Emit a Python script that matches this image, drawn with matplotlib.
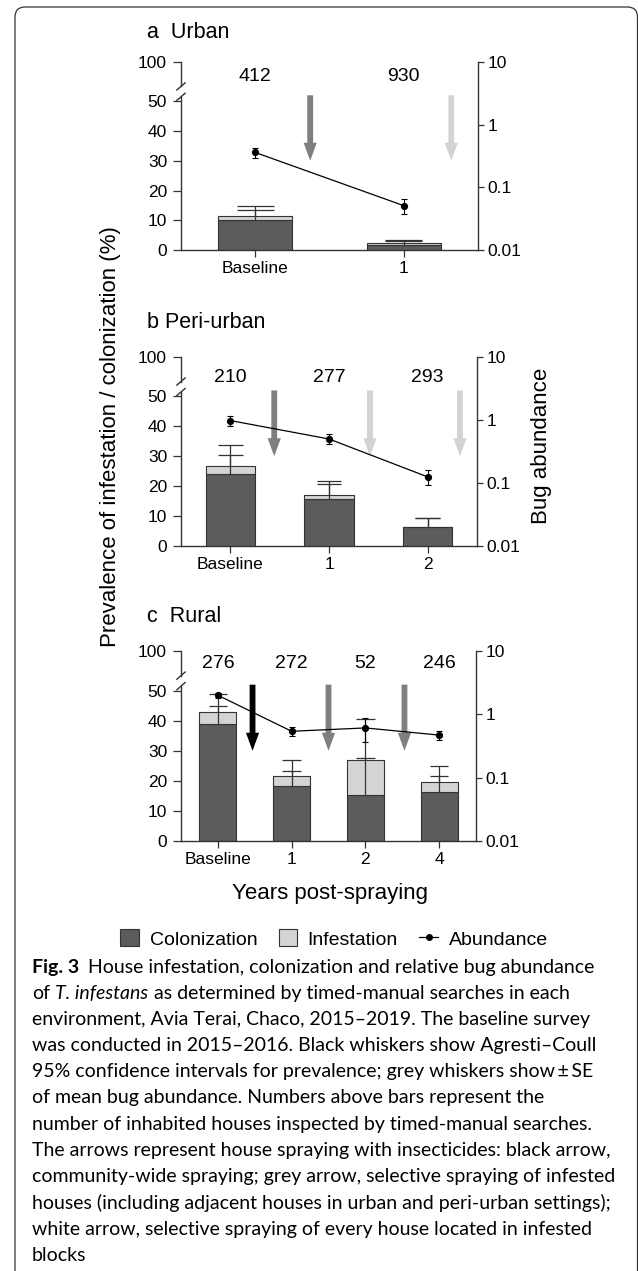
import matplotlib
matplotlib.use('Agg')
import matplotlib.pyplot as plt
from matplotlib.patches import Patch, FancyBboxPatch
from matplotlib.lines import Line2D
from matplotlib.ticker import NullLocator

plt.rcParams['font.family'] = ['Liberation Sans', 'DejaVu Sans']

# ---- waarden ----
# a Urban
urb_cat = ['Baseline', '1']
urb_n = [412, 930]
urb_col = [10.1, 1.7]          # kolonisatie (%)
urb_inf = [11.3, 2.2]          # infestatie (%)
urb_col_up = [13.4, 2.9]       # bovengrens CI kolonisatie
urb_inf_up = [14.9, 3.4]       # bovengrens CI infestatie
urb_ab = [0.36, 0.051]         # bug abundance
urb_ab_se = [0.065, 0.013]
urb_spray_x = [0.37, 1.32]
urb_spray = ['grey', 'white']

# b Peri-urban
per_cat = ['Baseline', '1', '2']
per_n = [210, 277, 293]
per_col = [24.2, 15.8, 6.2]
per_inf = [26.9, 16.9, 6.2]
per_col_up = [30.4, 20.8, 9.5]
per_inf_up = [33.7, 21.9, 9.5]
per_ab = [0.98, 0.50, 0.125]
per_ab_se = [0.17, 0.09, 0.033]
per_spray_x = [0.445, 1.415, 2.327]
per_spray = ['grey', 'white', 'white']

# c Rural
rur_cat = ['Baseline', '1', '2', '4']
rur_n = [276, 272, 52, 246]
rur_col = [39.0, 18.4, 15.3, 16.3]
rur_inf = [42.9, 21.5, 26.8, 19.5]
rur_col_up = [44.9, 23.2, 27.6, 21.5]
rur_inf_up = [48.9, 26.9, 40.5, 24.8]
rur_ab = [2.0, 0.54, 0.61, 0.47]
rur_ab_se = [0.17, 0.09, 0.25, 0.08]
rur_spray_x = [0.47, 1.5, 2.53]
rur_spray = ['black', 'grey', 'grey']

caption = [
    'environment, Avia Terai, Chaco, 2015\u20132019. The baseline survey',
    'was conducted in 2015\u20132016. Black whiskers show Agresti\u2013Coull',
    '95% confidence intervals for prevalence; grey whiskers show\u2009\u00b1\u2009SE',
    'of mean bug abundance. Numbers above bars represent the',
    'number of inhabited houses inspected by timed-manual searches.',
    'The arrows represent house spraying with insecticides: black arrow,',
    'community-wide spraying; grey arrow, selective spraying of infested',
    'houses (including adjacent houses in urban and peri-urban settings);',
    'white arrow, selective spraying of every house located in infested',
    'blocks',
]

W, H = 638, 1271
C_COL = '#5c5c5c'
C_INF = '#d4d4d4'
EDGE = '#333333'
ARROW = {'black': '#000000', 'grey': '#7f7f7f', 'white': '#d3d3d3'}
BREAK_LO, BREAK_HI, TOP = 51.5, 55, 63.2   # gebroken y-as: 50 .. 100

fig = plt.figure(figsize=(W / 100, H / 100), dpi=100)


def rect(l, r, t, b):
    return [l / W, 1 - b / H, (r - l) / W, (b - t) / H]


def panel(pos, title, title_y, cats, n, n_y, col, inf, col_up, inf_up, ab, ab_se, spray_x, spray):
    ax = fig.add_axes(pos)
    x = list(range(len(cats)))
    ax.bar(x, col, width=0.5, color=C_COL, edgecolor=EDGE, linewidth=0.8, zorder=2)
    ax.bar(x, [i - c for i, c in zip(inf, col)], bottom=col, width=0.5,
           color=C_INF, edgecolor=EDGE, linewidth=0.8, zorder=2)
    # alleen bovenste snorharen (Agresti-Coull)
    ax.vlines(x, col, col_up, color=EDGE, lw=0.9, zorder=3)
    ax.vlines(x, inf, inf_up, color=EDGE, lw=0.9, zorder=3)
    ax.hlines(col_up, [i - 0.125 for i in x], [i + 0.125 for i in x], color=EDGE, lw=0.9, zorder=3)
    ax.hlines(inf_up, [i - 0.125 for i in x], [i + 0.125 for i in x], color=EDGE, lw=0.9, zorder=3)

    # pijlen = bespuitingen
    for sx, kind in zip(spray_x, spray):
        ax.annotate('', xy=(sx, 30), xytext=(sx, 52),
                    arrowprops=dict(arrowstyle='simple,head_length=1.3,head_width=0.95,tail_width=0.42',
                                    mutation_scale=10, color=ARROW[kind], shrinkA=0, shrinkB=0, lw=0))

    # aantallen huizen
    for xi, ni in zip(x, n):
        ax.text(xi, n_y, str(ni), transform=ax.get_xaxis_transform(),
                ha='center', va='center', fontsize=14)

    ax.set_xlim(-0.5, len(cats) - 0.5)
    ax.set_ylim(0, TOP)
    ax.set_yticks([0, 10, 20, 30, 40, 50, TOP], ['0', '10', '20', '30', '40', '50', '100'])
    ax.set_xticks(x, cats)
    for s in ['top', 'right']:
        ax.spines[s].set_visible(False)
    for s in ['left', 'bottom']:
        ax.spines[s].set_color(EDGE)
        ax.spines[s].set_linewidth(1)
    ax.spines['left'].set_bounds(0, BREAK_LO)
    yt = ax.get_yaxis_transform()
    ax.plot([0, 0], [BREAK_HI, TOP], color=EDGE, lw=1, transform=yt, clip_on=False)
    for yb in [BREAK_LO, BREAK_HI]:
        ax.plot([-0.014, 0.014], [yb - 1.2, yb + 1.2], color=EDGE, lw=1, transform=yt, clip_on=False)
    ax.tick_params(direction='out', length=5, width=0.9, color=EDGE, labelsize=12.5, pad=3)
    ax.tick_params(axis='y', length=6, pad=4)

    ax2 = ax.twinx()
    ax2.set_yscale('log')
    ax2.errorbar(x, ab, yerr=ab_se, fmt='-o', color='black', ms=4.2, lw=0.9,
                 elinewidth=0.8, capsize=2.3, capthick=0.8, zorder=5)
    ax2.set_ylim(0.01, 10)
    ax2.set_yticks([0.01, 0.1, 1, 10], ['0.01', '0.1', '1', '10'])
    ax2.yaxis.set_minor_locator(NullLocator())
    for s in ['top', 'left', 'bottom']:
        ax2.spines[s].set_visible(False)
    ax2.spines['right'].set_color(EDGE)
    ax2.spines['right'].set_linewidth(1)
    ax2.tick_params(direction='out', length=4.5, width=0.9, color=EDGE, labelsize=12.5, pad=2.5)

    fig.text(147 / W, 1 - title_y / H, title, fontsize=15.5, ha='left', va='center')
    return ax


panel(rect(181, 478, 62, 250), 'a  Urban', 33, urb_cat, urb_n, 0.925,
      urb_col, urb_inf, urb_col_up, urb_inf_up, urb_ab, urb_ab_se, urb_spray_x, urb_spray)
panel(rect(181, 477, 357, 546), 'b Peri-urban', 323, per_cat, per_n, 0.89,
      per_col, per_inf, per_col_up, per_inf_up, per_ab, per_ab_se, per_spray_x, per_spray)
panel(rect(181, 476, 651, 841), 'c  Rural', 617, rur_cat, rur_n, 0.935,
      rur_col, rur_inf, rur_col_up, rur_inf_up, rur_ab, rur_ab_se, rur_spray_x, rur_spray)

fig.text(111 / W, 1 - 437 / H, 'Prevalence of infestation / colonization (%)',
         rotation=90, ha='center', va='center', fontsize=16)
fig.text(541 / W, 1 - 446 / H, 'Bug abundance', rotation=90, ha='center', va='center', fontsize=16)
fig.text(330 / W, 1 - 893 / H, 'Years post-spraying', ha='center', va='center', fontsize=16)

handles = [Patch(facecolor=C_COL, edgecolor=EDGE, lw=0.8),
           Patch(facecolor=C_INF, edgecolor=EDGE, lw=0.8),
           Line2D([], [], color='black', marker='o', ms=4, lw=0.9)]
fig.legend(handles, ['Colonization', 'Infestation', 'Abundance'], loc='center',
           bbox_to_anchor=(334 / W, 1 - 939 / H), ncol=3, frameon=False, fontsize=14,
           handlelength=0.95, handleheight=0.95, handletextpad=0.55, columnspacing=1.1,
           borderaxespad=0, borderpad=0)

# onderschrift
cax = fig.add_axes([0, 0, 1, 1])
cax.axis('off')
cap_kw = dict(fontsize=14, family=['Lato', 'DejaVu Sans'], va='center')
sp = 0.27 * 14
t = cax.text(32 / W, 1 - 967 / H, 'Fig. 3', fontweight='bold', **cap_kw)
cax.annotate('House infestation, colonization and relative bug abundance', xy=(1, 0.5), xycoords=t,
             xytext=(1.6 * sp, 0), textcoords='offset points', **cap_kw)
t = cax.text(32 / W, 1 - (967 + 26.2) / H, 'of', **cap_kw)
t = cax.annotate('T. infestans', xy=(1, 0.5), xycoords=t, xytext=(sp, 0),
                 textcoords='offset points', style='italic', **cap_kw)
cax.annotate('as determined by timed-manual searches in each', xy=(1, 0.5), xycoords=t,
             xytext=(sp, 0), textcoords='offset points', **cap_kw)
for i, line in enumerate(caption):
    cax.text(32 / W, 1 - (967 + 26.2 * (i + 2)) / H, line, **cap_kw)

# afgeronde kader
fig.patches.append(FancyBboxPatch((0.15, -0.3), 6.225, 12.64 + 0.3,
                                  boxstyle='round,pad=0,rounding_size=0.1',
                                  transform=fig.dpi_scale_trans, fill=False,
                                  edgecolor='#333333', lw=0.9))

fig.savefig('out.png', dpi=100)
